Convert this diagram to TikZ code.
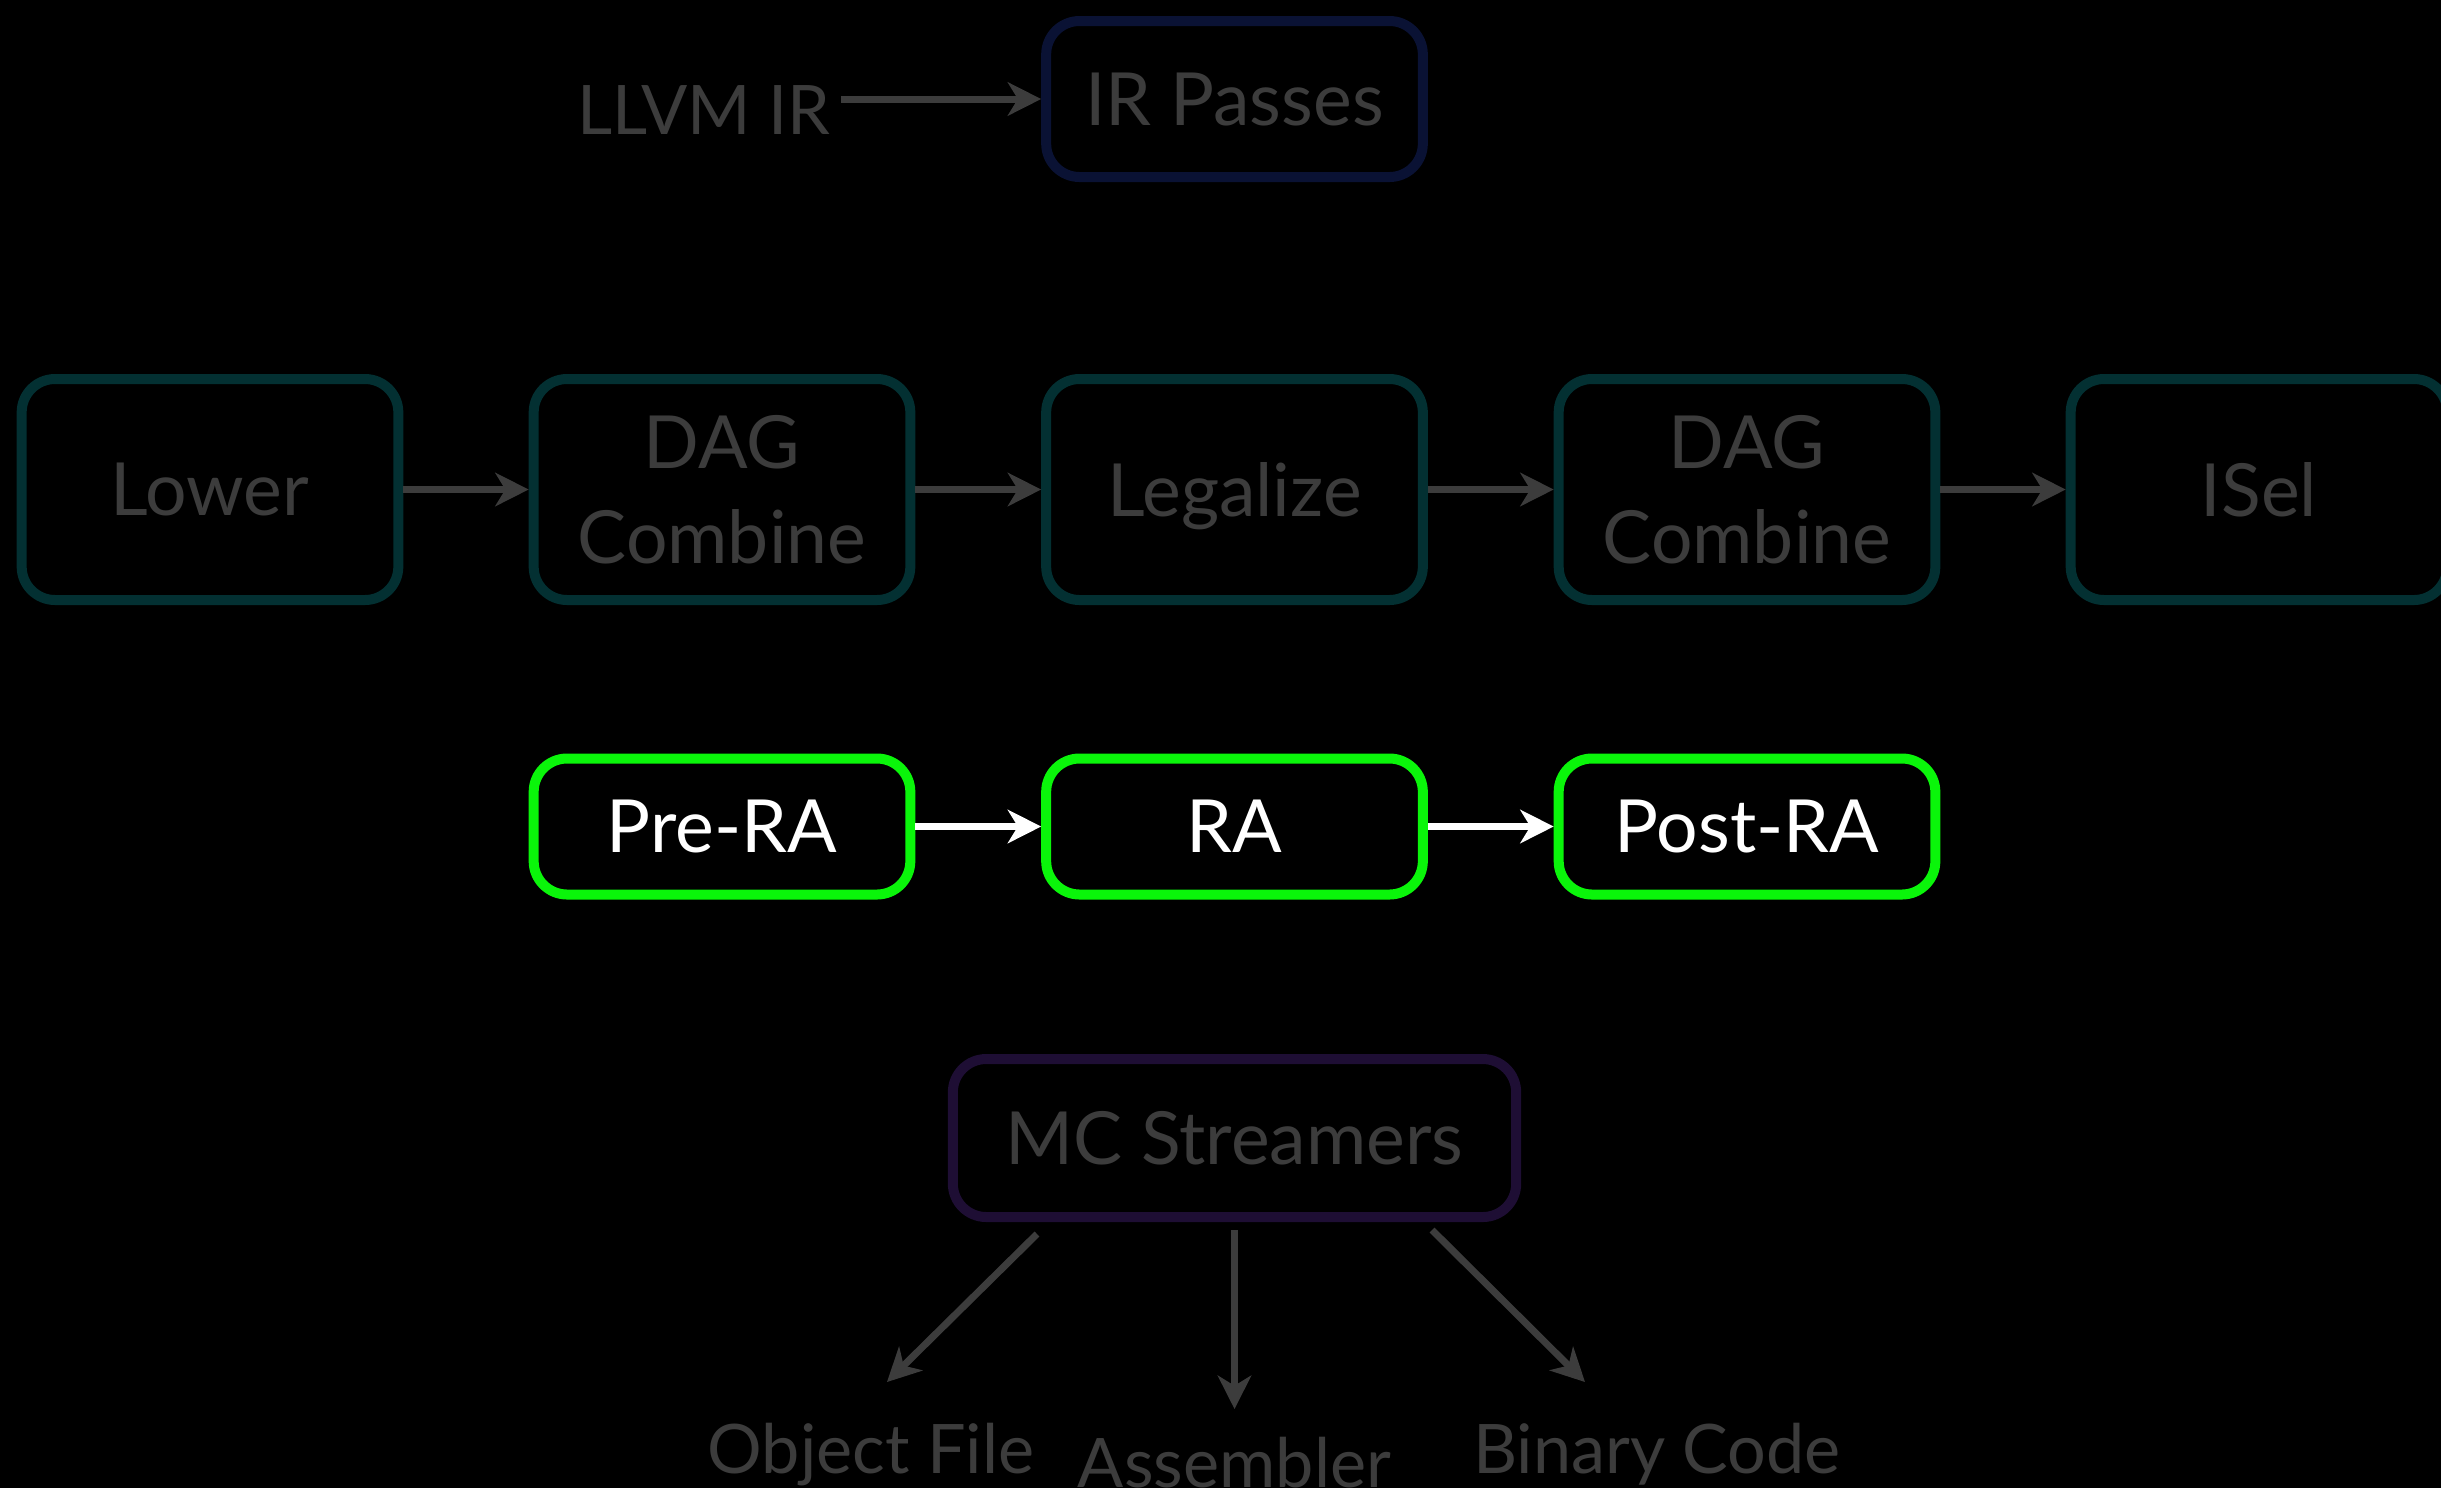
\documentclass[tikz,border=0pt]{standalone}
\usepackage{fontspec}
\setmainfont{Lato}
\usetikzlibrary{arrows.meta,positioning}

\definecolor{dimtext}{RGB}{60,60,60}
\definecolor{irnavy}{RGB}{10,18,52}
\definecolor{dagteal}{RGB}{3,48,50}
\definecolor{ragreen}{RGB}{10,245,10}
\definecolor{mcpurple}{RGB}{30,14,52}

\tikzset{
  stage/.style={draw, line width=3pt, rounded corners=10pt, minimum width=113pt,
    align=center, inner sep=0pt, text depth=0pt},
  irstage/.style={stage, draw=irnavy, text=dimtext, minimum height=46.8pt},
  dagstage/.style={stage, draw=dagteal, text=dimtext, minimum height=66.3pt},
  rastage/.style={stage, draw=ragreen, text=white, minimum height=40.8pt},
  mcstage/.style={stage, draw=mcpurple, text=dimtext, minimum width=169pt, minimum height=47.4pt},
  plain/.style={text=dimtext, inner sep=3pt, anchor=base, font=\fontsize{20.5}{26}\selectfont},
  flow/.style={draw=dimtext, line width=2.1pt, -{Stealth[length=10pt,width=10pt,inset=3pt]}},
  raflow/.style={flow, draw=white},
}

\begin{document}
\begin{tikzpicture}[x=0.3pt, y=-0.3pt, font=\fontsize{22}{28.5}\selectfont]

\fill[black] (0,0) rectangle (2441,1488);
\useasboundingbox (0,0) rectangle (2441,1488);

% IR level
\node[plain] (llvm) at (704,134) {LLVM IR};
\node[irstage] (irpasses) at (1234.5,99) {IR Passes};
\draw[flow] (llvm.east |- irpasses.west) -- (irpasses.west);

% SelectionDAG
\node[dagstage] (lower) at (210,489.5) {Lower};
\node[dagstage] (combine1) at (722,489.5) {DAG\\Combine};
\node[dagstage] (legalize) at (1234.5,489.5) {Legalize};
\node[dagstage] (combine2) at (1747,489.5) {DAG\\Combine};
\node[dagstage] (isel) at (2259,489.5) {ISel};

\draw[flow] (lower) -- (combine1);
\draw[flow] (combine1) -- (legalize);
\draw[flow] (legalize) -- (combine2);
\draw[flow] (combine2) -- (isel);

% register allocation
\node[rastage] (prera) at (722,826.5) {Pre-RA};
\node[rastage] (ra) at (1234.5,826.5) {RA};
\node[rastage] (postra) at (1747,826.5) {Post-RA};

\draw[raflow] (prera) -- (ra);
\draw[raflow] (ra) -- (postra);

% MC layer
\node[mcstage] (mc) at (1234.5,1138) {MC Streamers};

\node[plain] (objfile) at (871,1473) {Object File};
\node[plain] (asm) at (1234.5,1487) {Assembler};
\node[plain] (bincode) at (1657,1473) {Binary Code};

\coordinate (objtip) at (887,1382);
\coordinate (asmtip) at (1234.5,1409);
\coordinate (bintip) at (1585,1382);

\draw[flow] ([xshift=-59.25pt,yshift=-3.6pt]mc.south) -- (objtip);
\draw[flow] ([yshift=-2.4pt]mc.south) -- (asmtip);
\draw[flow] ([xshift=59.25pt,yshift=-2.4pt]mc.south) -- (bintip);

\end{tikzpicture}
\end{document}
